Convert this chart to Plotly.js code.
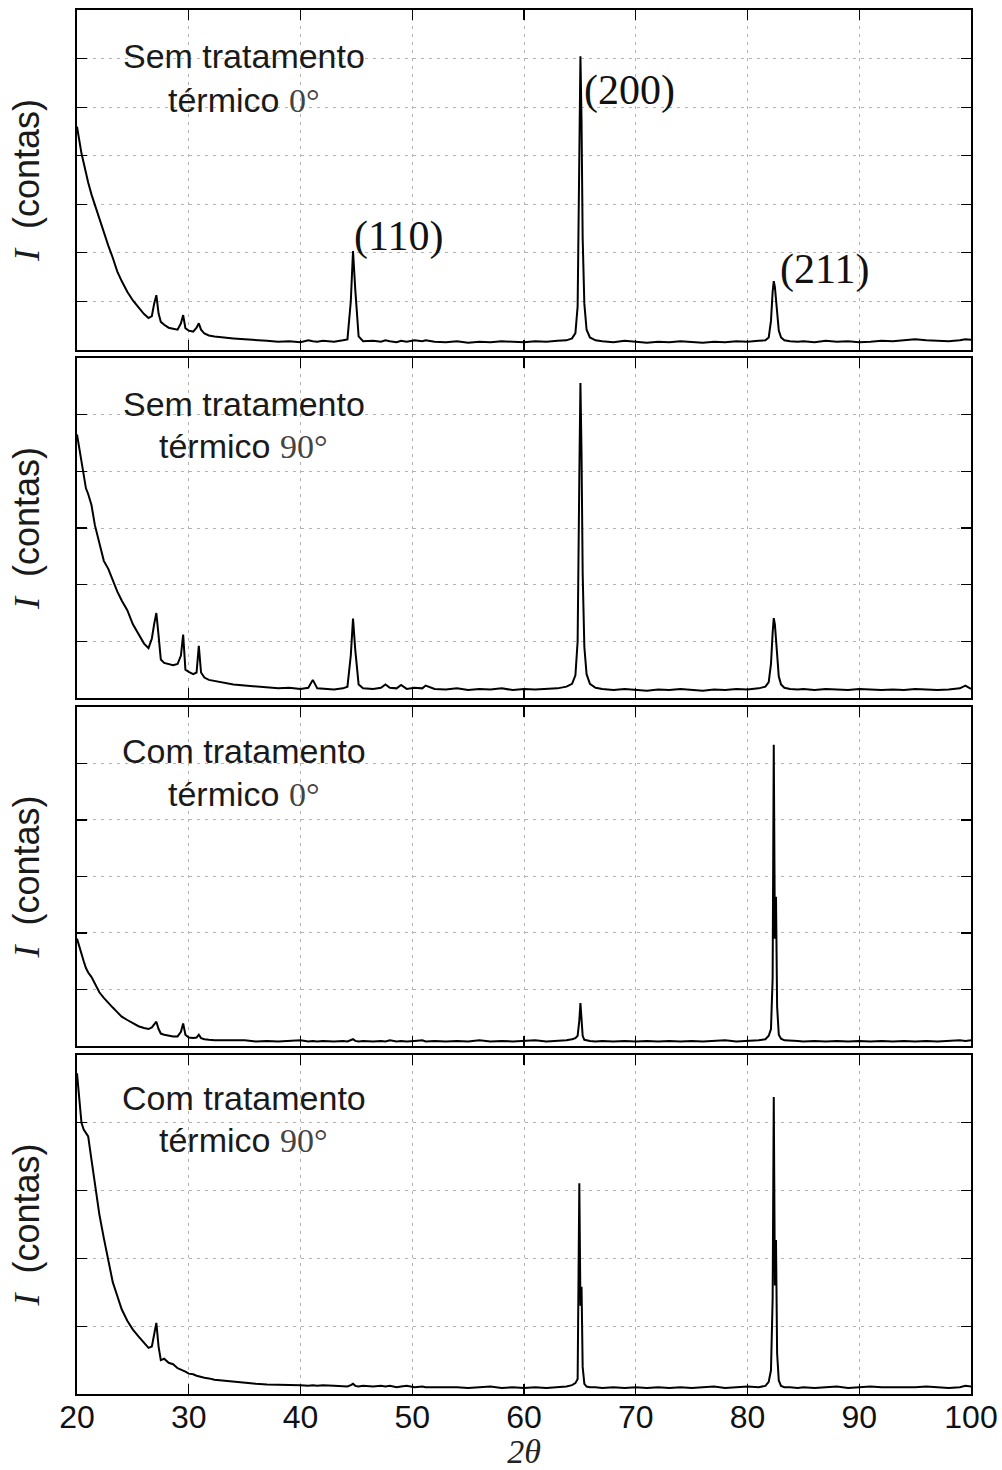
<!DOCTYPE html>
<html><head><meta charset="utf-8">
<script src="https://cdn.plot.ly/plotly-3.0.1.min.js"></script>
<style>html,body{margin:0;padding:0;background:#fff}#chart{width:1002px;height:1470px}</style>
</head><body><div id="chart"></div>
<script>
// 2θ sampling positions (degrees)
const twoTheta = [
 20.0,20.2,20.4,20.6,20.8,21.0,21.3,21.6,22.0,22.4,
 22.8,23.2,23.6,24.0,24.5,25.0,25.5,26.0,26.4,26.7,
 26.9,27.1,27.3,27.5,27.8,28.2,28.6,29.0,29.3,29.5,
 29.7,30.0,30.4,30.7,30.9,31.1,31.4,31.8,32.3,33.0,
 33.5,34.0,35.0,36.0,37.0,38.0,39.0,40.0,40.7,41.1,
 41.5,42.0,43.0,43.8,44.2,44.5,44.7,44.9,45.2,45.6,
 46.5,47.2,47.6,48.0,48.6,49.0,49.5,50.2,50.9,51.2,
 52.0,53.0,54.0,55.0,56.0,57.0,58.0,59.0,60.0,61.0,
 62.0,63.0,63.8,64.3,64.6,64.8,64.95,65.05,65.15,65.25,
 65.4,65.6,65.9,66.4,67.0,68.0,69.0,70.0,71.0,72.0,
 73.0,74.0,75.0,76.0,77.0,78.0,79.0,80.0,81.0,81.6,
 81.9,82.1,82.25,82.35,82.45,82.55,82.65,82.8,83.0,83.3,
 83.8,84.5,85.0,86.0,87.0,88.0,89.0,90.0,91.0,92.0,
 93.0,94.0,95.0,96.0,97.0,98.0,99.0,99.5,100.0];

// Intensities (arbitrary units, one grid step per unit)
const semTrat0 = [
 4.6,4.3,4.05,3.85,3.62,3.45,3.2,2.98,2.7,2.42,
 2.15,1.9,1.62,1.42,1.2,1.02,0.88,0.74,0.66,0.7,
 0.95,1.13,0.75,0.58,0.52,0.46,0.44,0.42,0.55,0.72,
 0.45,0.4,0.38,0.46,0.55,0.42,0.34,0.3,0.28,0.26,
 0.25,0.24,0.22,0.21,0.19,0.17,0.18,0.16,0.2,0.18,
 0.17,0.19,0.17,0.2,0.22,1.0,2.04,1.25,0.28,0.18,
 0.19,0.17,0.2,0.18,0.16,0.19,0.17,0.2,0.18,0.2,
 0.17,0.16,0.18,0.15,0.17,0.16,0.18,0.17,0.16,0.18,
 0.17,0.19,0.2,0.24,0.35,0.9,4.2,6.05,4.7,2.3,
 0.95,0.42,0.26,0.2,0.18,0.16,0.19,0.17,0.15,0.17,
 0.16,0.18,0.17,0.15,0.17,0.16,0.18,0.17,0.19,0.2,
 0.26,0.6,1.2,1.42,1.3,1.0,0.68,0.4,0.26,0.2,
 0.18,0.17,0.18,0.16,0.19,0.17,0.18,0.16,0.17,0.19,
 0.18,0.2,0.22,0.2,0.19,0.18,0.2,0.22,0.21];

const semTrat90 = [
 4.65,4.4,4.15,3.95,3.7,3.6,3.4,3.05,2.75,2.42,
 2.28,2.08,1.88,1.72,1.55,1.3,1.14,0.96,0.88,1.05,
 1.3,1.5,1.1,0.68,0.62,0.6,0.58,0.6,0.75,1.12,
 0.5,0.46,0.42,0.45,0.92,0.45,0.36,0.32,0.3,0.27,
 0.26,0.24,0.22,0.2,0.18,0.17,0.18,0.16,0.18,0.32,
 0.17,0.16,0.15,0.17,0.2,0.75,1.4,0.85,0.24,0.17,
 0.16,0.18,0.24,0.18,0.17,0.23,0.16,0.18,0.17,0.22,
 0.16,0.15,0.17,0.14,0.16,0.15,0.17,0.14,0.16,0.15,
 0.16,0.17,0.2,0.25,0.4,1.0,3.9,5.56,4.3,2.2,
 0.9,0.42,0.25,0.18,0.16,0.14,0.16,0.15,0.13,0.15,
 0.14,0.16,0.15,0.13,0.15,0.14,0.16,0.15,0.17,0.2,
 0.28,0.6,1.15,1.41,1.3,1.0,0.65,0.38,0.24,0.18,
 0.16,0.15,0.16,0.14,0.16,0.15,0.14,0.16,0.15,0.14,
 0.15,0.14,0.16,0.15,0.14,0.15,0.17,0.22,0.16];

const comTrat0 = [
 1.9,1.75,1.6,1.5,1.38,1.3,1.22,1.1,0.95,0.85,
 0.76,0.68,0.6,0.52,0.46,0.4,0.35,0.32,0.3,0.33,
 0.38,0.43,0.3,0.22,0.2,0.18,0.17,0.17,0.25,0.4,
 0.2,0.15,0.14,0.15,0.2,0.14,0.12,0.11,0.1,0.1,
 0.1,0.09,0.1,0.08,0.09,0.08,0.09,0.1,0.08,0.09,
 0.08,0.09,0.08,0.09,0.08,0.1,0.12,0.09,0.08,0.09,
 0.08,0.09,0.08,0.1,0.08,0.09,0.08,0.09,0.1,0.08,
 0.09,0.08,0.09,0.08,0.1,0.08,0.09,0.08,0.09,0.1,
 0.08,0.09,0.1,0.12,0.14,0.18,0.45,0.76,0.4,0.18,
 0.11,0.1,0.09,0.08,0.09,0.08,0.09,0.08,0.09,0.08,
 0.09,0.08,0.09,0.08,0.09,0.1,0.08,0.09,0.1,0.12,
 0.18,0.3,1.2,5.33,1.9,2.64,0.7,0.2,0.13,0.1,
 0.1,0.09,0.08,0.09,0.08,0.09,0.08,0.09,0.08,0.09,
 0.08,0.09,0.08,0.09,0.08,0.09,0.1,0.09,0.1];

const comTrat90 = [
 4.73,4.3,4.0,3.9,3.85,3.8,3.45,3.1,2.65,2.3,
 1.95,1.65,1.45,1.25,1.08,0.95,0.85,0.75,0.68,0.7,
 0.9,1.05,0.7,0.5,0.52,0.46,0.44,0.38,0.36,0.35,
 0.33,0.3,0.29,0.27,0.26,0.25,0.24,0.23,0.21,0.2,
 0.19,0.18,0.16,0.15,0.14,0.14,0.13,0.13,0.12,0.13,
 0.12,0.13,0.12,0.12,0.11,0.13,0.15,0.12,0.11,0.12,
 0.11,0.12,0.11,0.12,0.1,0.11,0.12,0.1,0.11,0.1,
 0.1,0.11,0.1,0.09,0.1,0.11,0.09,0.1,0.09,0.1,
 0.09,0.1,0.11,0.13,0.16,0.22,3.11,1.3,1.58,0.4,
 0.15,0.11,0.1,0.1,0.09,0.1,0.09,0.1,0.09,0.1,
 0.09,0.1,0.09,0.1,0.11,0.09,0.1,0.11,0.1,0.12,
 0.18,0.35,1.4,4.38,1.6,2.27,0.6,0.2,0.12,0.1,
 0.1,0.09,0.1,0.09,0.1,0.11,0.09,0.1,0.11,0.1,
 0.1,0.09,0.1,0.11,0.1,0.09,0.1,0.12,0.11];

const xTickVals = [20,30,40,50,60,70,80,90,100];
const panelLine1 = ["Sem tratamento","Sem tratamento","Com tratamento","Com tratamento"];
const panelAngle = ["0°","90°","0°","90°"];
const peakLabels = ["(110)","(200)","(211)"];
const peakLabelX = [44.6, 65.2, 82.73];
const peakLabelY = [2.33, 5.35, 1.65];

const series = [semTrat0, semTrat90, comTrat0, comTrat90];

// layout geometry
const domains = [[0.7543,1],[0.50289,0.74855],[0.25145,0.49639],[0,0.24494]];
const yRanges = [[0,7],[0,6],[0,6],[0,5]];
const yTicks = [[1,2,3,4,5,6],[1,2,3,4,5],[1,2,3,4,5],[1,2,3,4]];
const line1Y = [6.06,5.19,5.22,4.36];
const line2Y = [5.15,4.45,4.46,3.75];

const serif = "'Liberation Serif', 'DejaVu Serif', serif";
const sans = "'Liberation Sans', Arial, sans-serif";

const axBase = {
  showline:true, linecolor:'#000', linewidth:2, mirror:'ticks',
  ticks:'inside', ticklen:10, tickwidth:1.2, tickcolor:'#000',
  showgrid:true, gridcolor:'#b3b3b3', gridwidth:1, griddash:'3px,5px',
  zeroline:false
};

const traces = [];
const layout = {
  width:1002, height:1470,
  margin:{l:77, r:31, t:10, b:76},
  paper_bgcolor:'#fff', plot_bgcolor:'#fff',
  showlegend:false,
  annotations:[]
};

for (let i = 0; i < 4; i++) {
  const n = i === 0 ? '' : String(i + 1);
  traces.push({
    x: twoTheta, y: series[i], type:'scatter', mode:'lines',
    xaxis:'x' + n, yaxis:'y' + n,
    line:{color:'#000', width:2}, hoverinfo:'skip'
  });
  layout['xaxis' + n] = Object.assign({}, axBase, {
    domain:[0,1], anchor:'y' + n, range:[20,100],
    tickmode:'array', tickvals:xTickVals,
    showticklabels: i === 3,
    ticklabelstandoff: -6,
    tickfont:{family:sans, size:32, color:'#111'},
    title: i === 3 ? {text:'<i>2θ</i>', font:{family:serif, size:34, color:'#222'}, standoff:8} : undefined
  });
  layout['yaxis' + n] = Object.assign({}, axBase, {
    domain:domains[i], anchor:'x' + n, range:yRanges[i],
    tickmode:'array', tickvals:yTicks[i], showticklabels:false,
    title:{text:'<span style="font-family:Liberation Serif"><i>I</i></span>\u00a0\u00a0(contas)',
           font:{family:sans, size:36, color:'#1a1a1a'}, standoff:24}
  });
  layout.annotations.push({
    xref:'x' + n, yref:'y' + n, x:34.9, y:line1Y[i], text:panelLine1[i],
    showarrow:false, xanchor:'center', yanchor:'middle',
    font:{family:sans, size:34, color:'#1a1a1a'}
  });
  layout.annotations.push({
    xref:'x' + n, yref:'y' + n, x:34.9, y:line2Y[i],
    text:'térmico <span style="font-family:Liberation Serif;fill:#444">' + panelAngle[i] + '</span>',
    showarrow:false, xanchor:'center', yanchor:'middle',
    font:{family:sans, size:34, color:'#1a1a1a'}
  });
}
for (let k = 0; k < peakLabels.length; k++) {
  layout.annotations.push({
    xref:'x', yref:'y', x:peakLabelX[k], y:peakLabelY[k], text:peakLabels[k],
    showarrow:false, xanchor:'left', yanchor:'middle',
    font:{family:serif, size:42, color:'#111'}
  });
}

Plotly.newPlot('chart', traces, layout, {staticPlot:true, displayModeBar:false});
</script>
</body></html>
